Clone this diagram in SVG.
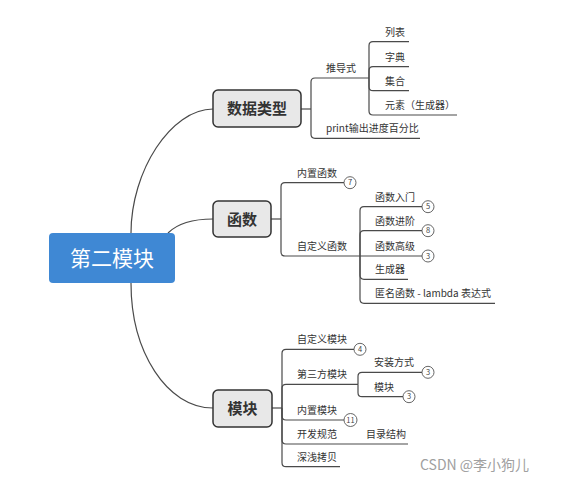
<svg xmlns="http://www.w3.org/2000/svg" width="571" height="482" viewBox="0 0 571 482">
<style>
text{font-family:"Noto Sans CJK SC","Noto Sans",sans-serif;fill:#333}
.lbl{font-size:10px}
.main{fill:#e8e8e8;stroke:#333;stroke-width:1.5}
.mt{font-size:15px;font-weight:bold;text-anchor:middle}
.ln{fill:none;stroke:#4a4a4a;stroke-width:1.2}
.bd circle{fill:#fff;stroke:#555;stroke-width:0.9}
.bd text{font-size:7.5px;text-anchor:middle;fill:#444}
</style>
<rect width="571" height="482" fill="#fff"/>
<g id="connectors" class="ln">
<path d="M131,233 C131,171 171,109 213,109"/>
<path d="M168,233 C178,223 195,219 213,219"/>
<path d="M131,283 C131,352 167,408 213,408"/>
<path d="M301,109 H311"/>
<path d="M311,109 V82 Q311,78 315,78 H369"/>
<path d="M311,109 V134.3 Q311,138.3 315,138.3 H420"/>
<path d="M369,78 V45.7 Q369,41.7 373,41.7 H409"/>
<path d="M369,78 V70.7 Q369,66.7 373,66.7 H409"/>
<path d="M369,78 V86.7 Q369,90.7 373,90.7 H409"/>
<path d="M369,78 V111 Q369,115 373,115 H457"/>
<path d="M271,219 H281"/>
<path d="M281,219 V186.7 Q281,182.7 285,182.7 H344"/>
<path d="M281,219 V252 Q281,256 285,256 H360"/>
<path d="M360,256 V210.7 Q360,206.7 364,206.7 H422"/>
<path d="M360,256 V234.7 Q360,230.7 364,230.7 H422"/>
<path d="M360,256 H422"/>
<path d="M360,256 V275.3 Q360,279.3 364,279.3 H408"/>
<path d="M360,256 V299.3 Q360,303.3 364,303.3 H495"/>
<path d="M272,408 H282"/>
<path d="M282,408 V353.3 Q282,349.3 286,349.3 H354"/>
<path d="M282,408 V388.3 Q282,384.3 286,384.3 H358"/>
<path d="M282,408 V416 Q282,420 286,420 H344"/>
<path d="M282,408 V440 Q282,444 286,444 H408"/>
<path d="M282,408 V462.7 Q282,466.7 286,466.7 H340"/>
<path d="M358,384.3 V376.3 Q358,372.3 362,372.3 H422"/>
<path d="M358,384.3 V392.7 Q358,396.7 362,396.7 H403"/>
</g>
<g id="root">
<rect x="49" y="233" width="126" height="50" rx="4" fill="#3f88d4"/>
<text x="112" y="266" font-size="21" text-anchor="middle" style="fill:#fff">第二模块</text>
</g>
<g id="n-shujuleixing">
<rect class="main" x="213" y="90" width="88" height="37" rx="5"/>
<text class="mt" x="257" y="114">数据类型</text>
</g>
<g id="n-hanshu">
<rect class="main" x="213" y="201" width="58" height="36" rx="5"/>
<text class="mt" x="242" y="224.5">函数</text>
</g>
<g id="n-mokuai">
<rect class="main" x="213" y="390" width="59" height="37" rx="5"/>
<text class="mt" x="242.5" y="413.5">模块</text>
</g>
<g id="n-tuidaoshi"><text class="lbl" x="326" y="72">推导式</text></g>
<g id="n-print"><text class="lbl" x="326" y="132">print输出进度百分比</text></g>
<g id="n-liebiao"><text class="lbl" x="385" y="35.5">列表</text></g>
<g id="n-zidian"><text class="lbl" x="385" y="60.5">字典</text></g>
<g id="n-jihe"><text class="lbl" x="385" y="84.5">集合</text></g>
<g id="n-yuansu"><text class="lbl" x="385" y="109">元素（生成器）</text></g>
<g id="n-neizhihanshu"><text class="lbl" x="297" y="176.5">内置函数</text>
<g class="bd"><circle cx="350" cy="182.7" r="6"/><text x="350" y="185.4">7</text></g></g>
<g id="n-zidingyihanshu"><text class="lbl" x="297" y="250">自定义函数</text></g>
<g id="n-rumen"><text class="lbl" x="375" y="200.5">函数入门</text>
<g class="bd"><circle cx="428" cy="206.7" r="6"/><text x="428" y="209.4">5</text></g></g>
<g id="n-jinjie"><text class="lbl" x="375" y="224.5">函数进阶</text>
<g class="bd"><circle cx="428" cy="230.7" r="6"/><text x="428" y="233.4">8</text></g></g>
<g id="n-gaoji"><text class="lbl" x="375" y="250">函数高级</text>
<g class="bd"><circle cx="428" cy="256" r="6"/><text x="428" y="258.7">3</text></g></g>
<g id="n-shengchengqi"><text class="lbl" x="375" y="273">生成器</text></g>
<g id="n-niming"><text class="lbl" x="375" y="297">匿名函数 - lambda 表达式</text></g>
<g id="n-zidingyimokuai"><text class="lbl" x="297" y="343">自定义模块</text>
<g class="bd"><circle cx="360" cy="349.3" r="6"/><text x="360" y="352">4</text></g></g>
<g id="n-disanfang"><text class="lbl" x="297" y="378">第三方模块</text></g>
<g id="n-anzhuang"><text class="lbl" x="374" y="366">安装方式</text>
<g class="bd"><circle cx="428" cy="372.3" r="6"/><text x="428" y="375">3</text></g></g>
<g id="n-mokuai2"><text class="lbl" x="374" y="390.5">模块</text>
<g class="bd"><circle cx="409" cy="396.7" r="6"/><text x="409" y="399.4">3</text></g></g>
<g id="n-neizhimokuai"><text class="lbl" x="297" y="414">内置模块</text>
<g class="bd"><circle cx="350.5" cy="420" r="6.5"/><text x="350.5" y="422.7">11</text></g></g>
<g id="n-kaifa"><text class="lbl" x="297" y="438">开发规范</text></g>
<g id="n-mulu"><text class="lbl" x="366" y="438">目录结构</text></g>
<g id="n-shenqian"><text class="lbl" x="297" y="460.5">深浅拷贝</text></g>
<text x="420" y="470" font-size="14" style="fill:#a0a0a0">CSDN @李小狗儿</text>
</svg>
